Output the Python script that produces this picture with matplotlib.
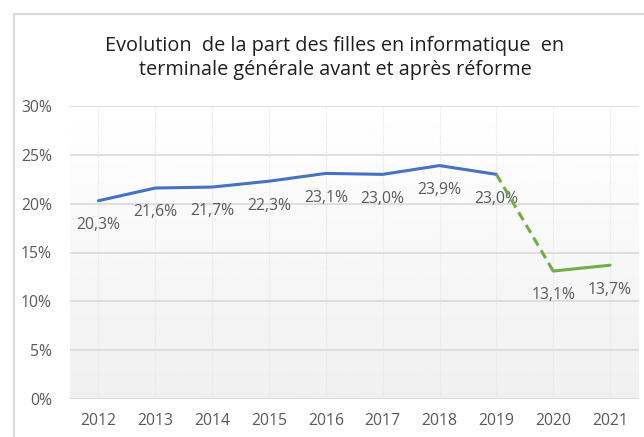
import matplotlib.pyplot as plt
from matplotlib.lines import Line2D
import numpy as np

plt.rcParams['font.family'] = ['Open Sans', 'DejaVu Sans']

years = ['2012', '2013', '2014', '2015', '2016', '2017', '2018', '2019', '2020', '2021']
part_filles = [20.3, 21.6, 21.7, 22.3, 23.1, 23.0, 23.9, 23.0, 13.1, 13.7]
labels = ['20,3%', '21,6%', '21,7%', '22,3%', '23,1%', '23,0%', '23,9%', '23,0%', '13,1%', '13,7%']
y_ticks = [0, 5, 10, 15, 20, 25, 30]
y_tick_labels = ['0%', '5%', '10%', '15%', '20%', '25%', '30%']
title = 'Evolution  de la part des filles en informatique  en\nterminale générale avant et après réforme'

blue = '#4472C4'
green = '#70AD47'
grey_txt = '#595959'

W, H = 644, 437
fig = plt.figure(figsize=(W / 100, H / 100), dpi=100)
fig.patch.set_facecolor('white')

# plot area in pixels
left, right, top, bottom = 70, 638.5, 106, 399
ax = fig.add_axes([left / W, 1 - bottom / H, (right - left) / W, (bottom - top) / H])

x = np.arange(len(years))

# gradient fill of the plot area (white on top, light grey at the bottom)
grad = np.linspace(1.0, 0.94, 256).reshape(-1, 1)
ax.imshow(grad, extent=(-0.5, len(years) - 0.5, 0, 30), origin='upper', aspect='auto',
          cmap='gray', vmin=0, vmax=1, zorder=0)
ax.set_xlim(-0.5, len(years) - 0.5)
ax.set_ylim(0, 30)

for v in y_ticks:
    ax.axhline(v, color='#D9D9D9', lw=1.2, zorder=1)
for xi in x:
    ax.axvline(xi, color='#E3E3E3', lw=0.8, ls=(0, (1, 1)), zorder=1)

n_before = 8
ax.plot(x[:n_before], part_filles[:n_before], color=blue, lw=2.2, zorder=3,
        solid_capstyle='round', solid_joinstyle='round')
ax.plot(x[n_before - 1:n_before + 1], part_filles[n_before - 1:n_before + 1], color=green,
        lw=2.2, ls=(0, (3, 1.8)), zorder=5)
ax.plot(x[n_before:], part_filles[n_before:], color=green, lw=2.2, zorder=3,
        solid_capstyle='round')

for xi, v, lab in zip(x, part_filles, labels):
    ax.annotate(lab, (xi, v), xytext=(0, -17.5), textcoords='offset points',
                ha='center', va='center', fontsize=11.3, color=grey_txt, zorder=4)

ax.set_xticks(x)
ax.set_xticklabels(years)
ax.set_yticks(y_ticks)
ax.set_yticklabels(y_tick_labels)
ax.tick_params(length=0, labelsize=11.3, labelcolor=grey_txt)
ax.tick_params(axis='x', pad=10)
ax.tick_params(axis='y', pad=13)
for s in ax.spines.values():
    s.set_visible(False)

fig.text(335 / W, 1 - 58 / H, title, ha='center', va='center', fontsize=14.3,
         color='#1F1F1F', linespacing=1.25)

# chart border (left and top)
fig.add_artist(Line2D([13.5 / W, 13.5 / W], [0, 1 - 14 / H], color='#D9D9D9', lw=1.5,
                      transform=fig.transFigure))
fig.add_artist(Line2D([13.5 / W, 1], [1 - 14 / H, 1 - 14 / H], color='#D9D9D9', lw=1.5,
                      transform=fig.transFigure))

fig.savefig('out.png', dpi=100)
